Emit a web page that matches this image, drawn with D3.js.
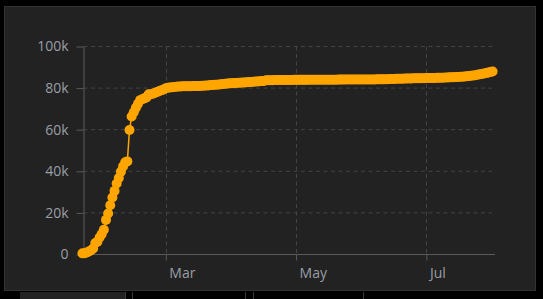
<!DOCTYPE html>
<html><head><meta charset="utf-8">
<script src="https://cdn.jsdelivr.net/npm/d3@7"></script>
<style>html,body{margin:0;padding:0;background:#000;overflow:hidden}</style>
</head><body><svg id="c" width="543" height="299"></svg>
<script>
const startDate = "2020-01-22";
const cases = [
  548, 643, 920, 1406, 2075, 2877, 5509, 6087, 8141, 9802,
  11891, 16630, 19716, 23707, 27440, 30587, 34110, 36814, 39829, 42354, 44386, 44759, 59895, 66358, 68413, 70513, 72434, 74211, 74619, 75077, 75550, 77001, 77022, 77241, 77754, 78166, 78600, 78928, 79356,
  79932, 80136, 80261, 80386, 80537, 80690, 80770, 80823, 80860, 80887, 80921, 80932, 80945, 80977, 81003, 81033, 81058, 81102, 81156, 81250, 81305, 81435, 81498, 81591, 81661, 81782, 81897, 81999, 82122, 82198, 82279,
  82361, 82432, 82511, 82543, 82602, 82665, 82718, 82809, 82883, 82941, 83014, 83134, 83213, 83306, 83356, 83403, 83760, 83787, 83805, 83817, 83853, 83868, 83884, 83899, 83909, 83912, 83918, 83940, 83944, 83956,
  83959, 83959, 83964, 83966, 83968, 83970, 83975, 83976, 83990, 84010, 84011, 84018, 84024, 84029, 84038, 84044, 84054, 84063, 84063, 84065, 84076, 84081, 84084, 84095, 84102, 84103, 84106, 84106, 84123, 84128, 84146,
  84154, 84159, 84160, 84171, 84177, 84186, 84191, 84195, 84198, 84198, 84210, 84216, 84228, 84335, 84378, 84422, 84458, 84494, 84522, 84553, 84572, 84624, 84653, 84673, 84701, 84725, 84743, 84757, 84780, 84785,
  84816, 84830, 84838, 84857, 84890, 84917, 84950, 84990, 85030, 85080, 85120, 85160, 85210, 85250, 85310, 85380, 85440, 85510, 85600, 85700, 85800, 85910, 86030, 86200, 86440, 86620, 86780, 86990, 87200, 87480, 87780,
  87990
];
const yTicks = [0, 20000, 40000, 60000, 80000, 100000];
const yTickLabels = ["0", "20k", "40k", "60k", "80k", "100k"];
const xTicks = ["2020-03-01", "2020-05-01", "2020-07-01"];
const xTickLabels = ["Mar", "May", "Jul"];

const parse = d3.utcParse("%Y-%m-%d");
const t0 = parse(startDate);
const data = cases.map((v, i) => ({ date: d3.utcDay.offset(t0, i), value: v }));

const svg = d3.select("#c");
// panel
svg.append("rect").attr("x", 4.5).attr("y", 6.5).attr("width", 531).attr("height", 284)
  .attr("fill", "#222").attr("stroke", "#333");
// bottom strip pieces
svg.append("rect").attr("x", 20).attr("y", 292).attr("width", 105).attr("height", 8).attr("fill", "#232323");
[125.5, 132.5, 245.5, 253.5, 363.5].forEach(px => {
  svg.append("line").attr("x1", px).attr("x2", px).attr("y1", 292).attr("y2", 299).attr("stroke", "#3a3a3a");
});

const x = d3.scaleUtc().domain([t0, data[data.length - 1].date]).range([82.5, 492.6]);
const y = d3.scaleLinear().domain([0, 100000]).range([254.5, 46.5]);
const xT = xTicks.map(parse);

const font = "'Open Sans', sans-serif";
// grid
svg.append("g").selectAll("line").data(yTicks.filter(d => d > 0)).join("line")
  .attr("x1", 83.5).attr("x2", 492).attr("y1", d => y(d)).attr("y2", d => y(d))
  .attr("stroke", "#444").attr("stroke-dasharray", "4,3.5");
svg.append("g").selectAll("line").data(xT).join("line")
  .attr("x1", d => Math.round(x(d)) + 0.5).attr("x2", d => Math.round(x(d)) + 0.5)
  .attr("y1", y(100000)).attr("y2", y(0))
  .attr("stroke", "#444").attr("stroke-dasharray", "4,3.5");

// y axis
const yAxis = svg.append("g").attr("transform", "translate(83.5,0)")
  .call(d3.axisLeft(y).tickValues(yTicks).tickFormat((d, i) => yTickLabels[i]).tickSize(7).tickPadding(8).tickSizeOuter(0));
yAxis.select(".domain").attr("stroke", "#5a5a5a");
yAxis.selectAll(".tick line").attr("stroke", "#5a5a5a");
yAxis.selectAll("text").attr("fill", "#9a9ea6").style("font", "14px " + font);

// x axis
const xAxis = svg.append("g").attr("transform", "translate(0,254.5)")
  .call(d3.axisBottom(x).tickValues(xT).tickFormat((d, i) => xTickLabels[i]).tickSize(6).tickPadding(8).tickSizeOuter(0));
xAxis.select(".domain").remove();
xAxis.selectAll(".tick line").attr("stroke", "#5a5a5a");
xAxis.selectAll("text").attr("fill", "#9a9ea6").style("font", "14px " + font)
  .attr("text-anchor", "start").attr("x", 3);
svg.append("line").attr("x1", 83.5).attr("x2", 495).attr("y1", 254.5).attr("y2", 254.5).attr("stroke", "#5a5a5a");

// series
const color = "#FFA500";
svg.append("path").datum(data)
  .attr("d", d3.line().x(d => x(d.date)).y(d => y(d.value)))
  .attr("fill", "none").attr("stroke", color).attr("stroke-width", 1.5);
svg.append("g").selectAll("circle").data(data).join("circle")
  .attr("cx", d => x(d.date)).attr("cy", d => y(d.value)).attr("r", 5).attr("fill", color);
</script>
</body></html>
